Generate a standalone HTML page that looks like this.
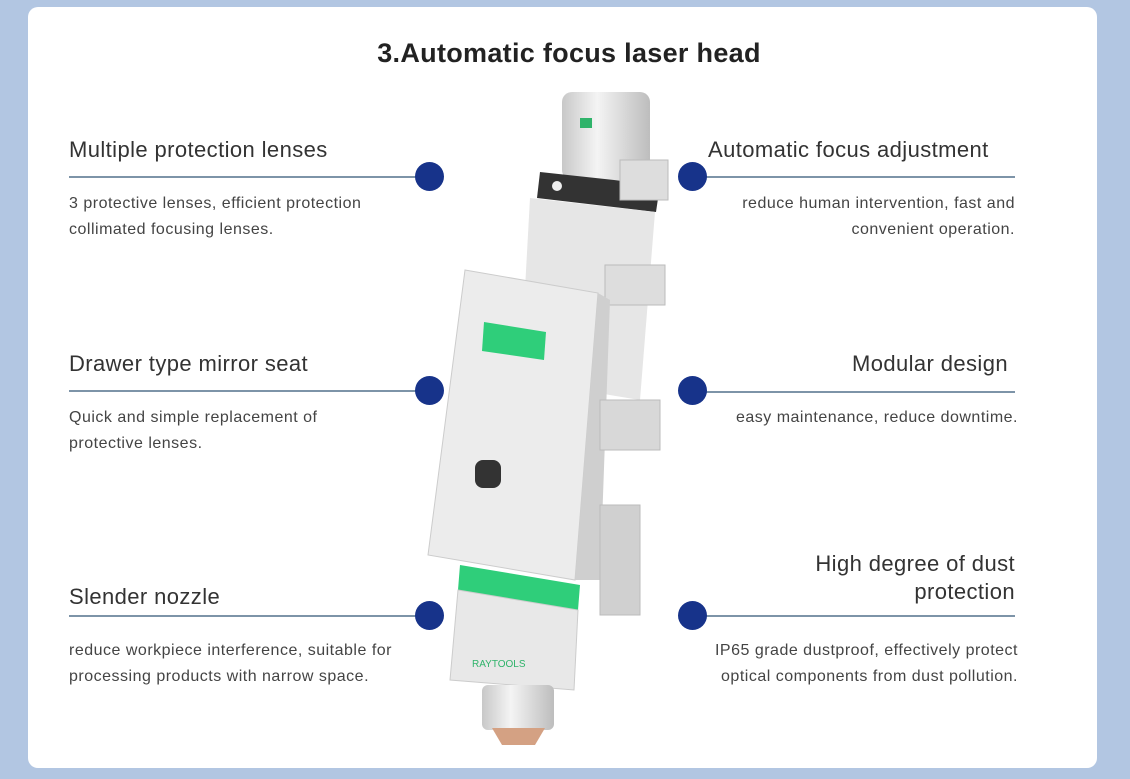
<!DOCTYPE html>
<html><head><meta charset="utf-8"><style>
body{margin:0;width:1130px;height:779px;background:#b2c6e2;font-family:"Liberation Sans",sans-serif;position:relative;overflow:hidden}
.card{position:absolute;left:28px;top:7px;width:1069px;height:761px;background:#fff;border-radius:10px}
.t{position:absolute;font-size:22px;letter-spacing:0.4px;color:#333;white-space:nowrap}
.d{position:absolute;font-size:16px;letter-spacing:0.5px;color:#444;line-height:26px;white-space:nowrap}
.r{text-align:right}
.ln{position:absolute;height:2px;background:#7d94a8}
.dot{position:absolute;width:29px;height:29px;border-radius:50%;background:#17338a}
h1{position:absolute;left:4px;width:1130px;top:38px;margin:0;text-align:center;font-size:27px;letter-spacing:0.3px;font-weight:bold;color:#222}
</style></head><body>
<div class="card"></div>
<h1>3.Automatic focus laser head</h1>

<svg style="position:absolute;left:0;top:0" width="1130" height="779">
<defs><linearGradient id="s" x1="0" x2="1"><stop offset="0" stop-color="#c8c8c8"/><stop offset=".4" stop-color="#f4f4f4"/><stop offset="1" stop-color="#bdbdbd"/></linearGradient></defs>
<rect x="562" y="92" width="88" height="88" rx="10" fill="url(#s)"/>
<rect x="580" y="118" width="12" height="10" fill="#2fb36a"/>
<polygon points="540,172 660,185 656,212 537,198" fill="#333"/>
<circle cx="557" cy="186" r="5" fill="#eee"/>
<polygon points="530,198 655,212 640,400 520,380" fill="#e6e6e6"/>
<rect x="620" y="160" width="48" height="40" fill="#ddd" stroke="#bbb"/>
<rect x="605" y="265" width="60" height="40" fill="#ddd" stroke="#bbb"/>
<polygon points="465,270 598,293 575,580 428,555" fill="#ececec" stroke="#ccc"/>
<polygon points="598,293 610,300 600,580 575,580" fill="#cfcfcf"/>
<polygon points="484,322 546,332 544,360 482,351" fill="#2fce7a"/>
<rect x="475" y="460" width="26" height="28" rx="8" fill="#333"/>
<rect x="600" y="400" width="60" height="50" fill="#d8d8d8" stroke="#bbb"/>
<rect x="600" y="505" width="40" height="110" fill="#d0d0d0" stroke="#bbb"/>
<polygon points="460,565 580,585 578,610 458,590" fill="#2fce7a"/>
<polygon points="458,590 578,610 574,690 450,680" fill="#e8e8e8" stroke="#ccc"/>
<text x="472" y="667" font-size="10" fill="#2fb36a" font-family="Liberation Sans">RAYTOOLS</text>
<rect x="482" y="685" width="72" height="45" rx="6" fill="url(#s)"/>
<polygon points="492,728 545,728 535,745 502,745" fill="#d4a183"/>
</svg>

<div class="t" style="left:69px;top:137px">Multiple protection lenses</div>
<div class="ln" style="left:69px;top:176px;width:350px"></div>
<div class="dot" style="left:415px;top:162px"></div>
<div class="d" style="left:69px;top:191px">3 protective lenses, efficient protection<br>collimated focusing lenses.</div>

<div class="t" style="left:69px;top:351px">Drawer type mirror seat</div>
<div class="ln" style="left:69px;top:390px;width:350px"></div>
<div class="dot" style="left:415px;top:376px"></div>
<div class="d" style="left:69px;top:405px">Quick and simple replacement of<br>protective lenses.</div>

<div class="t" style="left:69px;top:584px">Slender nozzle</div>
<div class="ln" style="left:69px;top:615px;width:350px"></div>
<div class="dot" style="left:415px;top:601px"></div>
<div class="d" style="left:69px;top:638px">reduce workpiece interference, suitable for<br>processing products with narrow space.</div>

<div class="t" style="left:708px;top:137px">Automatic focus adjustment</div>
<div class="ln" style="left:700px;top:176px;width:315px"></div>
<div class="dot" style="left:678px;top:162px"></div>
<div class="d r" style="right:115px;top:191px">reduce human intervention, fast and<br>convenient operation.</div>

<div class="t r" style="right:122px;top:351px">Modular design</div>
<div class="ln" style="left:700px;top:391px;width:315px"></div>
<div class="dot" style="left:678px;top:376px"></div>
<div class="d r" style="right:112px;top:405px">easy maintenance, reduce downtime.</div>

<div class="t r" style="right:115px;top:550px;line-height:28px">High degree of dust<br>protection</div>
<div class="ln" style="left:700px;top:615px;width:315px"></div>
<div class="dot" style="left:678px;top:601px"></div>
<div class="d r" style="right:112px;top:638px">IP65 grade dustproof, effectively protect<br>optical components from dust pollution.</div>
</body></html>
